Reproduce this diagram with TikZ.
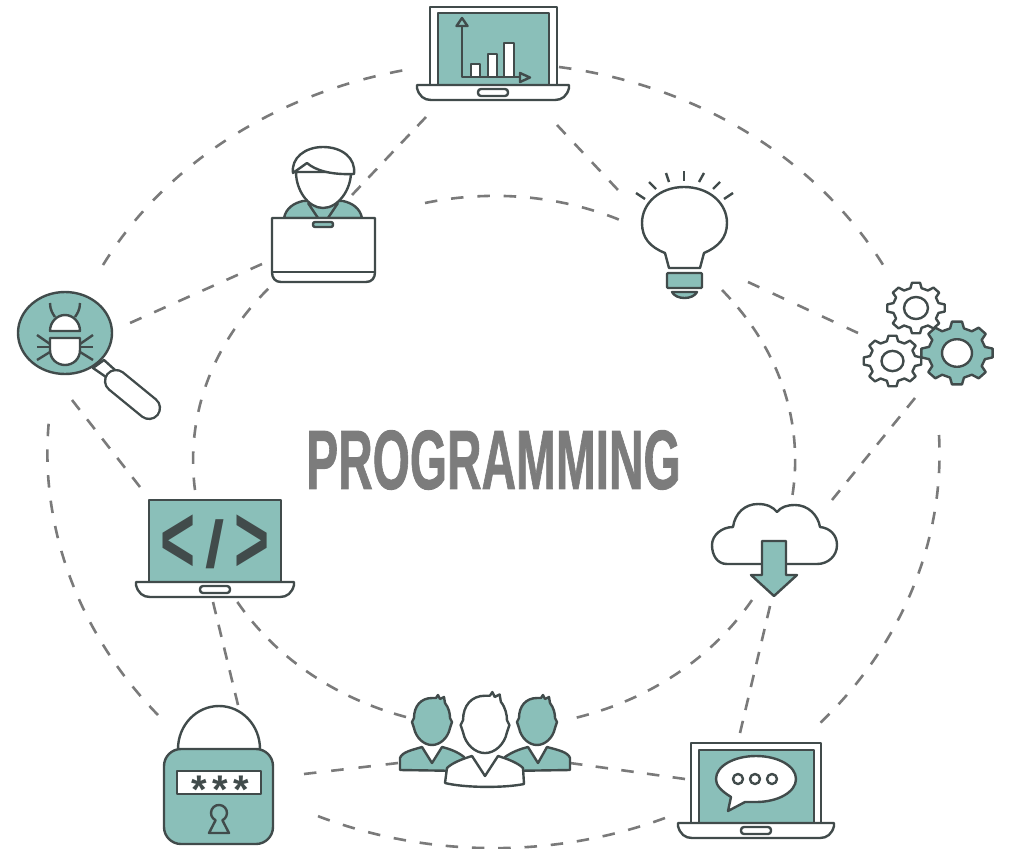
\documentclass[tikz,border=0pt]{standalone}
\usepackage{fontspec}
\newfontfamily\titlefont[UprightFont=* Bold,FakeBold=1.2]{Liberation Sans}
\newfontfamily\tagfont[UprightFont=* Bold]{Liberation Sans}
\newfontfamily\starfont[UprightFont=* Bold,LetterSpace=13.5]{Liberation Sans}
\definecolor{tealfill}{HTML}{8ABFB9}
\definecolor{iconline}{HTML}{414B4B}
\definecolor{linkgray}{HTML}{7A7A7A}
\definecolor{titlegray}{HTML}{7C7C7C}
\tikzset{
	icon/.style={draw=iconline,line width=2.4pt,line join=round},
	iconbox/.style={inner sep=0pt,outer sep=0pt},
	link/.style={draw=linkgray,line width=2.6pt,dash pattern=on 12.5pt off #1pt},
}
% Foot of a laptop: centre x, half width, top y
\newcommand\laptopbase[3]{
	\draw[icon,fill=white,shift={(#1,#3)}] (-#2,0) -- (#2,0) -- (#2,3)
		.. controls ({#2-2},11) and ({#2-7},15) .. ({#2-14},15)
		-- ({14-#2},15) .. controls ({7-#2},15) and ({2-#2},11) .. (-#2,3) -- cycle;
	\draw[icon,fill=white,shift={(#1,#3)},rounded corners=3pt] (-15,4) rectangle (15,11);
}
% Toothed wheel: x, y, outer radius, hole radius, fill
\newcommand\gearwheel[5]{
	\draw[icon,fill=#5,shift={(#1,#2)},yscale=.88] (-14:{.8*#3})
		\foreach \a in {0,45,...,315}{
			-- ({\a-14}:{.8*#3}) -- ({\a-8}:#3) -- ({\a+8}:#3) -- ({\a+14}:{.8*#3})
		} -- cycle;
	\draw[icon,fill=white] (#1,#2) ellipse (#4 and {.92*#4});
}
% Head with spiky hair: x, y, scale, fill
\newcommand\teamhead[4]{
	\draw[icon,fill=#4,shift={(#1,#2)},scale=#3] (-18,-4)
		.. controls (-18,-16) and (-11,-24) .. (0,-24)
		-- (4,-24) -- (6,-27) -- (8,-23) -- (12,-25) -- (13,-19)
		.. controls (17,-14) and (18,-8) .. (18,-4) -- (20,0) -- (18,6)
		.. controls (16,16) and (8,23) .. (0,23)
		.. controls (-8,23) and (-16,16) .. (-18,6) -- (-20,0) -- cycle;
}
\begin{document}
\begin{tikzpicture}[x=1pt,y=-1pt]
	\useasboundingbox (0,0) rectangle (1010,849);

	% Icon places
	\node[iconbox,minimum width=154pt,minimum height=96pt] (chart) at (493,53) {};
	\node[iconbox,minimum width=104pt,minimum height=136pt] (person) at (323,215) {};
	\node[iconbox,minimum width=100pt,minimum height=130pt] (bulb) at (685,235) {};
	\node[iconbox,minimum width=144pt,minimum height=130pt] (bug) at (88,355) {};
	\node[iconbox,minimum width=132pt,minimum height=104pt] (gears) at (929,335) {};
	\node[iconbox,minimum width=160pt,minimum height=100pt] (code) at (215,550) {};
	\node[iconbox,minimum width=128pt,minimum height=96pt] (cloud) at (774,550) {};
	\node[iconbox,minimum width=112pt,minimum height=142pt] (lock) at (219,775) {};
	\node[iconbox,minimum width=172pt,minimum height=94pt] (team) at (485,740) {};
	\node[iconbox,minimum width=158pt,minimum height=98pt] (talk) at (756,791) {};

	% Outer ring
	\draw[link=14.6] ([shift={(66,14)}]chart.center) .. controls +(138.7,18.1) and +(-66.9,-109) .. ([shift={(-44,-67)}]gears.center);
	\draw[link=13.2] ([shift={(10,100)}]gears.center) .. controls +(5.9,106.6) and +(82.7,-77.8) .. ([shift={(62,-66)}]talk.center);
	\draw[link=13.8] ([shift={(-91,27)}]talk.center) .. controls +(-111.7,41.2) and +(110.9,43.1) .. ([shift={(96,40)}]lock.center);
	\draw[link=13.2] ([shift={(-61,-60)}]lock.center) .. controls +(-79,-80.6) and +(-10.4,106.3) .. ([shift={(-39,65)}]bug.center);
	\draw[link=14.8] ([shift={(15,-90)}]bug.center) .. controls +(62.7,-101.8) and +(-128.2,23.2) .. ([shift={(-88,17)}]chart.center);

	% Inner ring
	\draw[link=13.9] ([shift={(102,-12)}]person.center) .. controls +(65.6,-13.5) and +(-61.2,-24.8) .. ([shift={(-65,-15)}]bulb.center);
	\draw[link=11.1] ([shift={(37,55)}]bulb.center) .. controls +(57,58) and +(12.6,-75.8) .. ([shift={(18,-52)}]cloud.center);
	\draw[link=12.9] ([shift={(-22,50)}]cloud.center) .. controls +(-39.6,57.8) and +(74.1,-18.1) .. ([shift={(90,-22)}]team.center);
	\draw[link=12] ([shift={(-79,-23)}]team.center) .. controls +(-71.8,-19.2) and +(38.3,56.6) .. ([shift={(21,50)}]code.center);
	\draw[link=13.7] ([shift={(-20,-60)}]code.center) .. controls +(-9.7,-75) and +(-57.5,56.2) .. ([shift={(-53,72)}]person.center);

	% Spokes
	\draw[link=11.25] ([shift={(-67,64)}]chart.center) -- ([shift={(29,-20)}]person.center);
	\draw[link=13] ([shift={(64,72)}]chart.center) -- ([shift={(-67,-45)}]bulb.center);
	\draw[link=13.9] ([shift={(-61,49)}]person.center) -- ([shift={(42,-32)}]bug.center);
	\draw[link=14.7] ([shift={(63,47)}]bulb.center) -- ([shift={(-71,-2)}]gears.center);
	\draw[link=11.3] ([shift={(-14,63)}]gears.center) -- ([shift={(58,-50)}]cloud.center);
	\draw[link=11.1] ([shift={(-4,56)}]cloud.center) -- ([shift={(-16,-58)}]talk.center);
	\draw[link=12] ([shift={(-16,45)}]bug.center) -- ([shift={(-75,-63)}]code.center);
	\draw[link=10.9] ([shift={(-2,52)}]code.center) -- ([shift={(19,-70)}]lock.center);
	\draw[link=14.9] ([shift={(85,-1)}]lock.center) -- ([shift={(-87,23)}]team.center);
	\draw[link=13.4] ([shift={(85,23)}]team.center) -- ([shift={(-71,-12)}]talk.center);

	% Title
	\node[iconbox,xscale=.569,text=titlegray] (title) at (493.5,460)
		{\titlefont\fontsize{84}{84}\selectfont PROGRAMMING};

	% Laptop with bars
	\draw[icon,fill=white] (430,85) -- (430,7) -- (557,7) -- (557,85);
	\draw[icon,fill=tealfill] (438,85) -- (438,13) -- (549,13) -- (549,85);
	\laptopbase{493}{76}{85}
	\draw[icon] (462,26) -- (462,77) -- (520,77);
	\draw[icon,fill=tealfill] (462,18) -- (456.5,26) -- (467.5,26) -- cycle;
	\draw[icon,fill=tealfill] (520,73) -- (530,77.5) -- (520,82) -- cycle;
	\draw[icon,fill=white] (471,77) rectangle (480,64);
	\draw[icon,fill=white] (488,77) rectangle (497,54);
	\draw[icon,fill=white] (504,77) rectangle (514,43);

	% Bulb
	\draw[icon,fill=white] (669,268) -- (665,253)
		.. controls (650,247) and (642,238) .. (642,223)
		.. controls (642,203) and (660,187) .. (684,187)
		.. controls (709,187) and (727,203) .. (727,223)
		.. controls (727,238) and (718,247) .. (704,253) -- (700,268) -- cycle;
	\draw[icon,fill=tealfill,rounded corners=1pt] (667,273) rectangle (702,288);
	\draw[icon,fill=tealfill] (672,292) .. controls (676,300) and (693,300) .. (697,292) -- cycle;
	\foreach \xa/\ya/\xb/\yb in {636/193/645/199,649/182/656/189,666/173/669/182,684/171/684/181,704/173/699/182,720/182/713/189,733/193/724/199}
		\draw[icon] (\xa,\ya) -- (\xb,\yb);

	% Person behind laptop
	\draw[icon,fill=tealfill] (284,218) .. controls (286,208) and (294,203) .. (303,201)
		-- (343,201) .. controls (352,203) and (360,208) .. (362,218) -- cycle;
	\draw[icon] (308,203) -- (318,218);
	\draw[icon] (338,203) -- (328,218);
	\draw[icon,fill=white] (296,172) .. controls (296,190) and (308,208) .. (323,208)
		.. controls (338,208) and (351,190) .. (351,172) -- cycle;
	\draw[icon,fill=white] (293,173) .. controls (291,158) and (305,147) .. (323,147)
		.. controls (342,147) and (356,158) .. (354,174)
		.. controls (330,175) and (315,170) .. (307,163) -- cycle;
	\draw[icon,fill=white] (272,218) -- (375,218) -- (375,272)
		.. controls (375,278) and (372,282) .. (366,282) -- (281,282)
		.. controls (275,282) and (272,278) .. (272,272) -- cycle;
	\draw[icon] (272,272) -- (375,272);
	\draw[icon,fill=tealfill,rounded corners=2pt] (313,222) rectangle (333,227);

	% Bug under a lens
	\draw[icon,fill=white] (93,368) -- (106,377) -- (115,370) -- (104,360) -- cycle;
	\draw[iconline,double=white,double distance=19.5pt,line width=2.4pt,line cap=round] (116,381) -- (149,408);
	\draw[icon,fill=tealfill] (65,333) ellipse (47 and 41);
	\draw[icon,fill=white] (50,331) .. controls (50,322) and (57,315) .. (65,315)
		.. controls (73,315) and (80,322) .. (80,331) -- cycle;
	\draw[icon,fill=white] (50,338) -- (80,338) -- (80,350)
		.. controls (80,359) and (73,365) .. (65,365)
		.. controls (57,365) and (50,359) .. (50,350) -- cycle;
	\draw[icon] (50,303) .. controls (50,310) and (53,314) .. (55,317);
	\draw[icon] (80,303) .. controls (80,310) and (77,314) .. (75,317);
	\foreach \xa/\ya/\xb/\yb in {37/335/50/344,37/347/50/347,37/360/50/352,93/335/80/344,93/347/80/347,93/360/80/352}
		\draw[icon] (\xa,\ya) -- (\xb,\yb);

	% Gears
	\gearwheel{916}{308}{29}{12}{white}
	\gearwheel{892.5}{361}{29}{11}{white}
	\gearwheel{957}{353}{36}{15}{tealfill}

	% Laptop with code
	\draw[icon,fill=tealfill] (149,582) -- (149,500) -- (281,500) -- (281,582);
	\laptopbase{215}{79}{582}
	\node[iconbox,text=iconline] (codetag) at (215,544)
		{\tagfont\fontsize{60}{60}\selectfont\scalebox{1}[1.6]{<}\hspace{10pt}\raisebox{5pt}{\scalebox{1.15}[1.1]{/}}\hspace{10pt}\scalebox{1}[1.6]{>}};

	% Cloud
	\draw[icon,fill=white] (727,564) .. controls (717,564) and (712,555) .. (712,545)
		.. controls (712,535) and (722,527) .. (733,527)
		.. controls (735,513) and (745,504) .. (758,504)
		.. controls (767,504) and (773,507) .. (777,512)
		.. controls (781,507) and (787,505) .. (795,505)
		.. controls (808,505) and (818,515) .. (820,527)
		.. controls (830,528) and (837,535) .. (837,545)
		.. controls (837,556) and (828,564) .. (817,564) -- cycle;
	\draw[icon,fill=tealfill] (762,541) -- (786,541) -- (786,575) -- (797,575) -- (774,596)
		-- (751,575) -- (762,575) -- cycle;

	% Lock
	\draw[icon,fill=white] (178,749) arc[start angle=180,end angle=360,x radius=41,y radius=43];
	\draw[icon,fill=tealfill,rounded corners=17pt] (164,749) rectangle (273,844);
	\draw[icon,fill=white] (177,771) rectangle (261,794);
	\node[iconbox,anchor=base,text=iconline] (stars) at (220,803)
		{\starfont\fontsize{40}{40}\selectfont ***};
	\draw[icon] (215.6,820.2) arc[start angle=115,end angle=425,radius=8] -- (229,833) -- (209,833) -- cycle;

	% Team
	\teamhead{432}{722}{1}{tealfill}
	\draw[icon,fill=tealfill] (400,770) -- (400,758) .. controls (402,752) and (412,750) .. (422,747)
		-- (432,763) -- (442,747) .. controls (450,749) and (458,752) .. (464,757) -- (464,771) -- cycle;
	\teamhead{537}{722}{1}{tealfill}
	\draw[icon,fill=tealfill] (570,770) -- (570,758) .. controls (568,752) and (558,750) .. (547,747)
		-- (538,763) -- (528,747) .. controls (520,749) and (512,752) .. (505,757) -- (505,771) -- cycle;
	\teamhead{485}{725}{1.22}{white}
	\draw[icon,fill=white] (445,783) -- (447,768) .. controls (452,763) and (462,759) .. (472,756)
		-- (485,776) -- (498,756) .. controls (508,759) and (518,763) .. (523,768) -- (524,784)
		.. controls (505,788) and (465,788) .. (445,783) -- cycle;

	% Laptop with speech bubble
	\draw[icon,fill=white] (691,823) -- (691,743) -- (821,743) -- (821,823);
	\draw[icon,fill=tealfill] (699,823) -- (699,750) -- (814,750) -- (814,823);
	\laptopbase{756}{78}{823}
	\draw[icon,fill=white] (731,797) .. controls (720,790) and (716,785) .. (716,779)
		.. controls (716,766) and (734,756) .. (756,756)
		.. controls (778,756) and (796,766) .. (796,779)
		.. controls (796,792) and (778,802) .. (756,802)
		.. controls (752,802) and (748,802) .. (745,802) -- (728,811) -- cycle;
	\foreach \cx in {738,755,772}
		\draw[icon] (\cx,779) circle (5);
\end{tikzpicture}
\end{document}
